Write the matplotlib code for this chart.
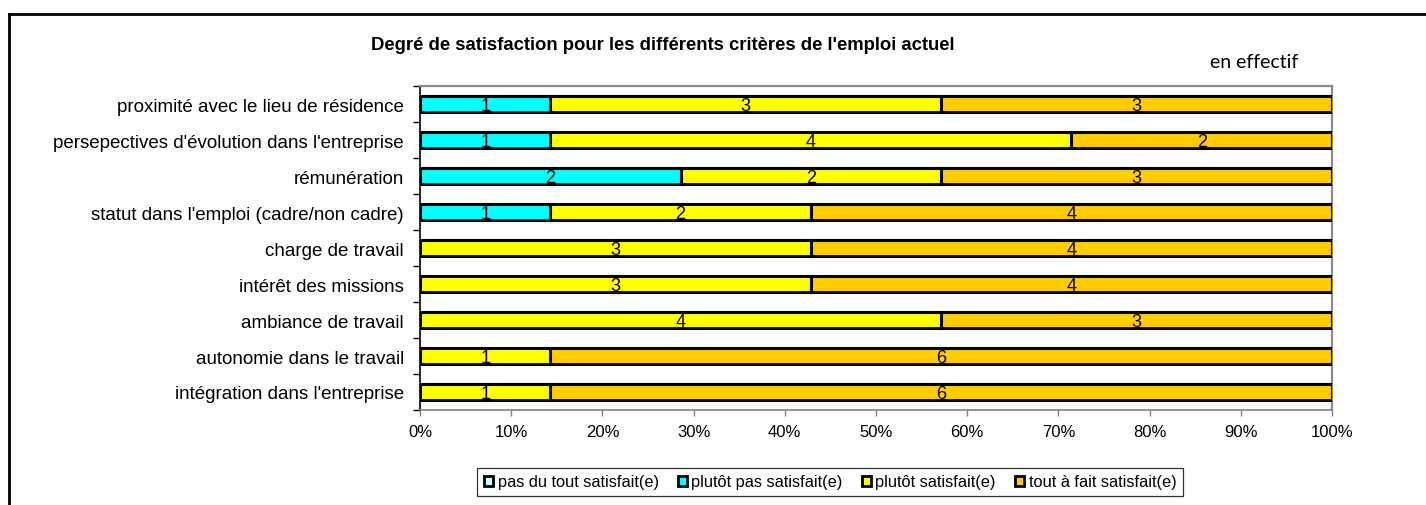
import matplotlib
matplotlib.use("Agg")
import matplotlib.pyplot as plt
from matplotlib.lines import Line2D
from matplotlib.patches import Patch
from matplotlib.ticker import FixedLocator, FuncFormatter
import numpy as np

plt.rcParams['font.family'] = ['Liberation Sans', 'DejaVu Sans']

# Criteria, listed top to bottom
criteres = [
    "proximité avec le lieu de résidence",
    "persepectives d'évolution dans l'entreprise",
    "rémunération",
    "statut dans l'emploi (cadre/non cadre)",
    "charge de travail",
    "intérêt des missions",
    "ambiance de travail",
    "autonomie dans le travail",
    "intégration dans l'entreprise",
]

niveaux = [
    "pas du tout satisfait(e)",
    "plutôt pas satisfait(e)",
    "plutôt satisfait(e)",
    "tout à fait satisfait(e)",
]

pas_du_tout = [0, 0, 0, 0, 0, 0, 0, 0, 0]
plutot_pas = [1, 1, 2, 1, 0, 0, 0, 0, 0]
plutot = [3, 4, 2, 2, 3, 3, 4, 1, 1]
tout_a_fait = [3, 2, 3, 4, 4, 4, 3, 6, 6]

couleurs = ["#CCFFFF", "#00FFFF", "#FFFF00", "#FFCC00"]

series = np.array([pas_du_tout, plutot_pas, plutot, tout_a_fait], dtype=float)
totaux = series.sum(axis=0)
parts = series / totaux

fig = plt.figure(figsize=(14.26, 5.06), dpi=100)
ax = fig.add_axes([420 / 1426, 95 / 506, 912 / 1426, 324 / 506])

n = len(criteres)
y = np.arange(n)[::-1]  # first criterion at the top
gauche = np.zeros(n)
for k in range(4):
    ax.barh(y, parts[k], left=gauche, height=0.42, color=couleurs[k],
            edgecolor="black", linewidth=2.2, zorder=3)
    for i in range(n):
        if series[k, i] > 0:
            ax.text(gauche[i] + parts[k, i] / 2, y[i] - 0.04,
                    f"{int(series[k, i])}", ha="center", va="center",
                    fontsize=13, color="black", zorder=4)
    gauche += parts[k]

ax.set_xlim(0, 1)
ax.set_ylim(-0.5, n - 0.5)
ax.xaxis.set_major_locator(FixedLocator(np.linspace(0, 1, 11)))
ax.xaxis.set_major_formatter(FuncFormatter(lambda v, p: f"{v * 100:.0f}%"))
ax.set_yticks(y)
ax.set_yticklabels(criteres, fontsize=13.5)
ax.yaxis.set_minor_locator(FixedLocator(np.arange(-0.5, n, 1.0)))
ax.tick_params(axis="y", which="major", length=0, pad=11.5)
ax.tick_params(axis="y", which="minor", length=5, width=1, color="black", direction="out")
ax.tick_params(axis="x", length=4, width=1, color="#808080", direction="out", labelsize=12, pad=6)

for s in ("top", "right"):
    ax.spines[s].set_color("#8c8c8c")
    ax.spines[s].set_linewidth(1.6)
ax.spines["left"].set_color("black")
ax.spines["left"].set_linewidth(1.2)
ax.spines["bottom"].set_color("#808080")
ax.spines["bottom"].set_linewidth(1.2)

fig.text(663 / 1426, 1 - 45 / 506,
         "Degré de satisfaction pour les différents critères de l'emploi actuel",
         ha="center", va="center", fontsize=13.3, fontweight="bold")
fig.text(1254 / 1426, 1 - 63 / 506, "en effectif", ha="center", va="center",
         fontsize=14, family=["Lato", "DejaVu Sans"])

handles = [Patch(facecolor=c, edgecolor="black", linewidth=2) for c in couleurs]
leg = fig.legend(handles, niveaux, loc="center", bbox_to_anchor=(830 / 1426, 1 - 483 / 506),
                 ncol=4, fontsize=11.8, frameon=True, fancybox=False,
                 handlelength=0.55, handleheight=0.55, handletextpad=0.3,
                 columnspacing=1.15, borderpad=0.4, edgecolor="black")
leg.get_frame().set_linewidth(0.9)

# outer frame around the chart
fig.add_artist(Line2D([9 / 1426, 1.0], [1 - 15 / 506, 1 - 15 / 506],
                      transform=fig.transFigure, color="black", linewidth=2))
fig.add_artist(Line2D([9 / 1426, 9 / 1426], [1 - 15 / 506, 0.0],
                      transform=fig.transFigure, color="black", linewidth=2))

fig.savefig("out.png", dpi=100)
